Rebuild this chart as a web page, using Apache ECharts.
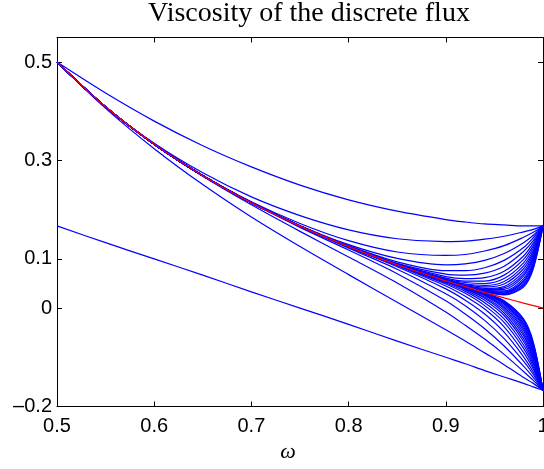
<!DOCTYPE html>
<html>
<head>
<meta charset="utf-8">
<script src="https://cdn.jsdelivr.net/npm/echarts@6/dist/echarts.min.js"></script>
<style>
html,body{margin:0;padding:0;background:#fff;overflow:hidden;}
#chart{width:544px;height:469px;}
</style>
</head>
<body>
<div id="chart"></div>
<script>
// omega sample positions
const omega = [0.5, 0.55, 0.6, 0.65, 0.7, 0.75, 0.8, 0.85, 0.9, 0.92, 0.94, 0.96, 0.98, 0.99, 1.0];

// red reference curve
const exactViscosity = [0.5, 0.4091, 0.3333, 0.2692, 0.2143, 0.1667, 0.125, 0.0882, 0.0556, 0.0435, 0.0319, 0.0208, 0.0102, 0.0051, 0];

// blue discrete-flux curves (values read at the omega positions)
const fluxCurves = [
  [0.167,0.133,0.100,0.067,0.033,0.000,-0.033,-0.067,-0.100,-0.113,-0.127,-0.140,-0.153,-0.160,-0.167],
  [0.5,0.437,0.380,0.330,0.287,0.250,0.220,0.197,0.180,0.175,0.171,0.169,0.167,0.167,0.167],
  [0.5,0.406,0.324,0.251,0.185,0.125,0.068,0.012,-0.044,-0.067,-0.091,-0.115,-0.141,-0.153,-0.167],
  [0.5,0.409,0.335,0.275,0.226,0.188,0.159,0.141,0.135,0.136,0.140,0.146,0.155,0.160,0.167],
  [0.5,0.409,0.333,0.268,0.210,0.156,0.104,0.051,-0.008,-0.035,-0.063,-0.094,-0.129,-0.147,-0.167],
  [0.5,0.409,0.333,0.270,0.216,0.172,0.137,0.114,0.107,0.109,0.116,0.127,0.144,0.154,0.167],
  [0.5,0.409,0.333,0.269,0.214,0.164,0.118,0.070,0.015,-0.012,-0.042,-0.077,-0.118,-0.141,-0.167],
  [0.5,0.409,0.333,0.269,0.215,0.168,0.129,0.101,0.088,0.090,0.097,0.111,0.133,0.148,0.167],
  [0.5,0.409,0.333,0.269,0.214,0.166,0.122,0.079,0.029,0.005,-0.025,-0.062,-0.108,-0.135,-0.167],
  [0.5,0.409,0.333,0.269,0.214,0.167,0.127,0.094,0.076,0.076,0.082,0.097,0.123,0.143,0.167],
  [0.5,0.409,0.333,0.269,0.214,0.167,0.124,0.084,0.039,0.016,-0.012,-0.049,-0.099,-0.130,-0.167],
  [0.5,0.409,0.333,0.269,0.214,0.167,0.126,0.091,0.069,0.067,0.071,0.085,0.115,0.137,0.167],
  [0.5,0.409,0.333,0.269,0.214,0.167,0.125,0.086,0.045,0.024,-0.002,-0.038,-0.090,-0.124,-0.167],
  [0.5,0.409,0.333,0.269,0.214,0.167,0.125,0.090,0.064,0.060,0.062,0.075,0.106,0.132,0.167],
  [0.5,0.409,0.333,0.269,0.214,0.167,0.125,0.087,0.049,0.030,0.005,-0.029,-0.082,-0.119,-0.167],
  [0.5,0.409,0.333,0.269,0.214,0.167,0.125,0.089,0.061,0.055,0.055,0.067,0.099,0.127,0.167],
  [0.5,0.409,0.333,0.269,0.214,0.167,0.125,0.088,0.051,0.034,0.011,-0.022,-0.075,-0.114,-0.167],
  [0.5,0.409,0.333,0.269,0.214,0.167,0.125,0.089,0.059,0.052,0.050,0.060,0.092,0.122,0.167],
  [0.5,0.409,0.333,0.269,0.214,0.167,0.125,0.088,0.053,0.037,0.016,-0.015,-0.068,-0.110,-0.167],
  [0.5,0.409,0.333,0.269,0.214,0.167,0.125,0.088,0.058,0.049,0.046,0.054,0.086,0.117,0.167],
  [0.5,0.409,0.333,0.269,0.214,0.167,0.125,0.088,0.054,0.039,0.020,-0.010,-0.062,-0.105,-0.167],
  [0.5,0.409,0.333,0.269,0.214,0.167,0.125,0.088,0.057,0.048,0.043,0.049,0.080,0.113,0.167],
  [0.5,0.409,0.333,0.269,0.214,0.167,0.125,0.088,0.054,0.040,0.022,-0.005,-0.056,-0.101,-0.167],
  [0.5,0.409,0.333,0.269,0.214,0.167,0.125,0.088,0.056,0.046,0.040,0.044,0.074,0.109,0.167],
  [0.5,0.409,0.333,0.269,0.214,0.167,0.125,0.088,0.055,0.041,0.025,-0.001,-0.051,-0.097,-0.167],
  [0.5,0.409,0.333,0.269,0.214,0.167,0.125,0.088,0.056,0.045,0.038,0.041,0.069,0.105,0.167],
  [0.5,0.409,0.333,0.269,0.214,0.167,0.125,0.088,0.055,0.042,0.026,0.002,-0.046,-0.093,-0.167],
  [0.5,0.409,0.333,0.269,0.214,0.167,0.125,0.088,0.056,0.045,0.037,0.038,0.065,0.101,0.167],
  [0.5,0.409,0.333,0.269,0.214,0.167,0.125,0.088,0.055,0.042,0.027,0.005,-0.042,-0.089,-0.167],
  [0.5,0.409,0.333,0.269,0.214,0.167,0.125,0.088,0.056,0.044,0.036,0.035,0.060,0.097,0.167],
  [0.5,0.409,0.333,0.269,0.214,0.167,0.125,0.088,0.055,0.043,0.028,0.008,-0.038,-0.085,-0.167],
  [0.5,0.409,0.333,0.269,0.214,0.167,0.125,0.088,0.056,0.044,0.035,0.033,0.056,0.093,0.167],
  [0.5,0.409,0.333,0.269,0.214,0.167,0.125,0.088,0.055,0.043,0.029,0.010,-0.034,-0.081,-0.167],
  [0.5,0.409,0.333,0.269,0.214,0.167,0.125,0.088,0.056,0.044,0.034,0.031,0.053,0.090,0.167],
  [0.5,0.409,0.333,0.269,0.214,0.167,0.125,0.088,0.055,0.043,0.030,0.011,-0.031,-0.078,-0.167],
  [0.5,0.409,0.333,0.269,0.214,0.167,0.125,0.088,0.056,0.044,0.034,0.030,0.049,0.086,0.167],
  [0.5,0.409,0.333,0.269,0.214,0.167,0.125,0.088,0.055,0.043,0.030,0.013,-0.027,-0.075,-0.167],
  [0.5,0.409,0.333,0.269,0.214,0.167,0.125,0.088,0.056,0.044,0.033,0.028,0.046,0.083,0.167],
  [0.5,0.409,0.333,0.269,0.214,0.167,0.125,0.088,0.055,0.043,0.031,0.014,-0.024,-0.072,-0.167],
  [0.5,0.409,0.333,0.269,0.214,0.167,0.125,0.088,0.056,0.044,0.033,0.027,0.043,0.080,0.167],
  [0.5,0.409,0.333,0.269,0.214,0.167,0.125,0.088,0.055,0.043,0.031,0.015,-0.022,-0.069,-0.167]
];

const yTickValues = [-0.2, 0, 0.1, 0.3, 0.5];

const chart = echarts.init(document.getElementById('chart'), null, {renderer: 'canvas'});

const pair = (ys) => omega.map((x, i) => [x, ys[i]]);

const series = fluxCurves.map((ys, k) => ({
  type: 'line',
  name: 'N' + k,
  data: pair(ys),
  showSymbol: false,
  smooth: 0.3,
  lineStyle: {color: '#0000ff', width: 1.2},
  silent: true,
  z: 2
}));
series.push({
  type: 'line',
  name: 'exact',
  data: pair(exactViscosity),
  showSymbol: false,
  smooth: 0.3,
  lineStyle: {color: '#ff0000', width: 1.2},
  silent: true,
  z: 3
});

const fmtY = v => {
  const r = Math.round(v * 10) / 10;
  return r < 0 ? '\u2013' + Math.abs(r) : String(r);
};
const fmtX = v => String(Math.round(v * 10) / 10);

const axisCommon = {
  axisLine: {show: true, onZero: false, lineStyle: {color: '#000', width: 1}},
  splitLine: {show: false}
};

chart.setOption({
  animation: false,
  backgroundColor: '#fff',
  title: {
    text: 'Viscosity of the discrete flux',
    left: 304,
    top: -5,
    textAlign: 'center',
    textStyle: {fontFamily: 'Liberation Serif', fontSize: 28, fontWeight: 'normal', color: '#000'}
  },
  grid: {left: 57, top: 37.5, width: 486, height: 369, containLabel: false, outerBoundsMode: 'none'},
  xAxis: [
    Object.assign({
      type: 'value', min: 0.5, max: 1, interval: 0.1, position: 'bottom',
      name: '\u03c9', nameLocation: 'middle', nameGap: 27,
      nameTextStyle: {fontFamily: 'Liberation Serif', fontStyle: 'italic', fontSize: 22, color: '#000', padding: [0, 24, 0, 0]},
      axisTick: {show: true, inside: true, length: 5, lineStyle: {color: '#000'}},
      axisLabel: {show: true, margin: 10, fontFamily: 'Liberation Sans', fontSize: 20, color: '#000', formatter: fmtX, showMinLabel: true, showMaxLabel: true, hideOverlap: false}
    }, axisCommon),
    Object.assign({
      type: 'value', min: 0.5, max: 1, interval: 0.1, position: 'top',
      axisTick: {show: true, inside: true, length: 5, lineStyle: {color: '#000'}},
      axisLabel: {show: false}
    }, axisCommon)
  ],
  yAxis: [
    Object.assign({
      type: 'value', min: -0.2, max: 0.55, interval: 0.05, position: 'left',
      axisTick: {show: true, inside: true, length: 5, customValues: yTickValues, lineStyle: {color: '#000'}},
      axisLabel: {show: true, margin: 5, fontFamily: 'Liberation Sans', fontSize: 20, color: '#000', customValues: yTickValues, formatter: fmtY}
    }, axisCommon),
    Object.assign({
      type: 'value', min: -0.2, max: 0.55, interval: 0.05, position: 'right',
      axisTick: {show: true, inside: true, length: 5, customValues: yTickValues, lineStyle: {color: '#000'}},
      axisLabel: {show: false}
    }, axisCommon)
  ],
  series: series
});
</script>
</body>
</html>
